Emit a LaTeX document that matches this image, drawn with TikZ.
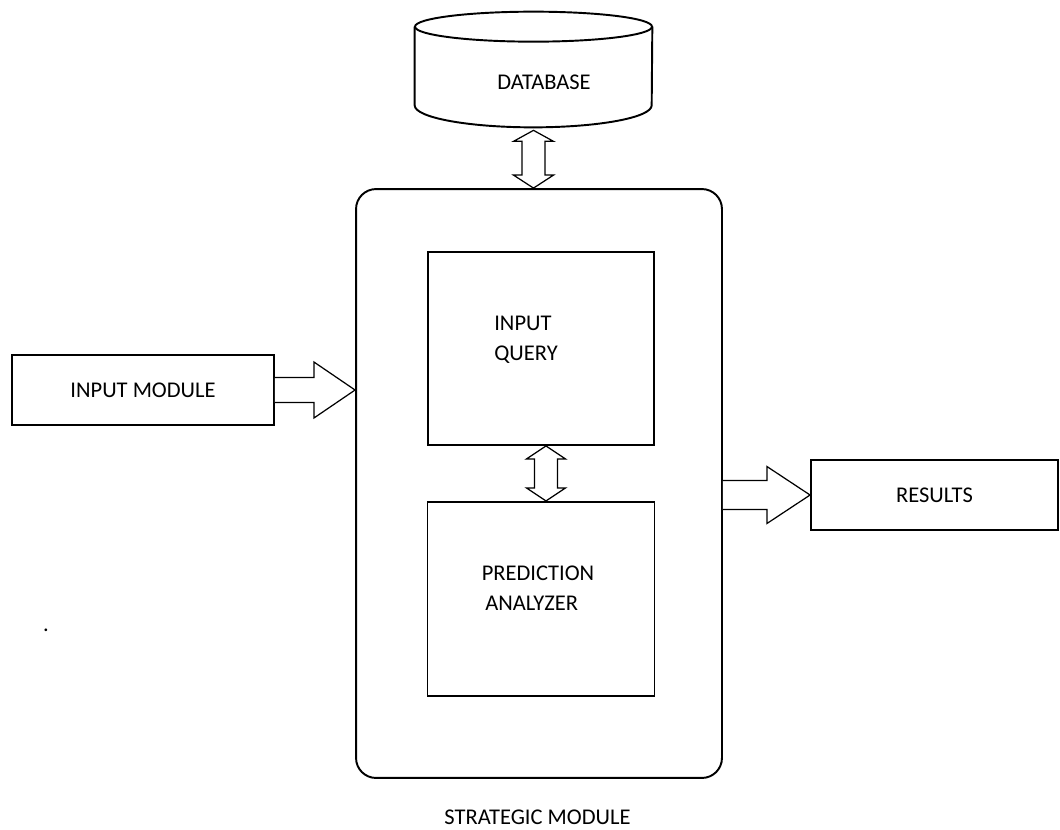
\documentclass[tikz,border=0pt]{standalone}
\usepackage{fontspec}
\setmainfont{Carlito}
\usepackage{tikz}
\usetikzlibrary{positioning, calc}

\begin{document}
\begin{tikzpicture}[
    x=0.02cm, y=-0.02cm,
    font=\fontsize{12.8}{17}\selectfont,
    box/.style={rectangle, draw, line width=1.1pt, inner sep=0pt},
    outerbox/.style={box, rounded corners=0.4cm},
    txt/.style={inner sep=0pt, align=left},
    dbbody/.style={rectangle, inner sep=0pt, minimum width=4.74cm, minimum height=1.56cm},
    blockarrow/.style={draw, line width=0.7pt, fill=white, line join=miter}
]
\useasboundingbox (0,0) rectangle (1060,829);

% Database
\node[dbbody] (database) at (533.5,66) {};
\draw[line width=1.1pt] (database.north west) -- (database.south west)
  arc[start angle=180, end angle=0, x radius=118.5, y radius=22] -- (database.north east);
\draw[line width=1.1pt] (database.north) ellipse [x radius=118.5, y radius=15];
\node[txt] (dblabel) at (544,82) {DATABASE};

% Strategic module
\node[outerbox, minimum width=7.32cm, minimum height=11.78cm] (strategic) at (539,483.5) {};
\node[box, minimum width=4.52cm, minimum height=3.86cm] (query) at (541,348.5) {};
\node[box, minimum width=4.54cm, minimum height=3.88cm, below=1.1cm of query] (predict) {};
\node[txt] (querylbl) at (526,340) {INPUT\\QUERY};
\node[txt] (predictlbl) at (538,588) {PREDICTION\\\hspace*{2pt}ANALYZER};
\node[txt] (smlabel) at ($(strategic.south)+(-1.5,38)$) {STRATEGIC MODULE};

% Input and results
\node[box, minimum width=5.24cm, minimum height=1.4cm] (input) at (143,390) {INPUT MODULE};
\node[box, minimum width=4.94cm, minimum height=1.4cm] (results) at (934.5,495) {RESULTS};
\node[txt] (dot) at (46,630) {.};

% Block arrows
\coordinate (dbtip) at ($(database.south)+(0,25)$);
\coordinate (smtip) at (strategic.north -| database.south);
\draw[blockarrow] (dbtip) -- ++(20,11) -- ++(-8.5,0) -- ($(smtip)+(11.5,-13)$) -- ++(8.5,0)
  -- (smtip) -- ++(-20,-13) -- ++(8.5,0) -- ($(dbtip)+(-11.5,11)$) -- ++(-8.5,0) -- cycle;

\coordinate (qtip) at ($(query.south)+(5,0)$);
\coordinate (ptip) at (qtip |- predict.north);
\draw[blockarrow] (qtip) -- ++(19.5,13) -- ++(-8,0) -- ($(ptip)+(11.5,-13)$) -- ++(8,0)
  -- (ptip) -- ++(-19.5,-13) -- ++(8,0) -- ($(qtip)+(-11.5,13)$) -- ++(-8,0) -- cycle;

\draw[blockarrow] ($(input.east)+(0,-12.5)$) -- ++(39,0) -- ++(0,-15.5)
  -- (input.east -| strategic.west) -- ($(input.east)+(39,28)$) -- ++(0,-15.5)
  -- ($(input.east)+(0,12.5)$);

\coordinate (resbase) at (strategic.east |- results.west);
\draw[blockarrow] ($(resbase)+(0,-14.5)$) -- ++(44,0) -- ++(0,-14)
  -- (results.west) -- ($(resbase)+(44,28.5)$) -- ++(0,-14)
  -- ($(resbase)+(0,14.5)$);

\end{tikzpicture}
\end{document}
